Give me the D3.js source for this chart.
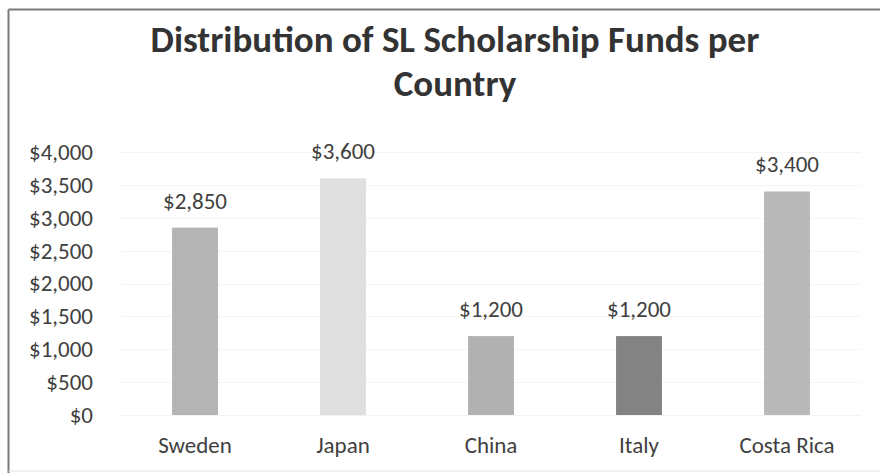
<!DOCTYPE html>
<html>
<head>
<meta charset="utf-8">
<script src="https://cdn.jsdelivr.net/npm/d3@7"></script>
<style>
  body { margin: 0; background: #fff; }
  text { font-family: Carlito, "Open Sans", sans-serif; fill: #404040; }
</style>
</head>
<body>
<script>
const countries = ["Sweden", "Japan", "China", "Italy", "Costa Rica"];
const funds = [2850, 3600, 1200, 1200, 3400];
const barColors = ["#b4b4b4", "#dfdfdf", "#b1b1b1", "#838383", "#b9b9b9"];
const yTicks = [0, 500, 1000, 1500, 2000, 2500, 3000, 3500, 4000];

const width = 880, height = 473;
const margin = {top: 152, right: 19, bottom: 58, left: 121};

const svg = d3.select("body").append("svg")
  .attr("width", width)
  .attr("height", height);

// frame (top and left edges show in the scan)
svg.append("line")
  .attr("x1", 8.5).attr("x2", width).attr("y1", 9.5).attr("y2", 9.5)
  .attr("stroke", "#7a7a7a").attr("stroke-width", 2);
svg.append("line")
  .attr("x1", 8.5).attr("x2", 8.5).attr("y1", 9.5).attr("y2", height)
  .attr("stroke", "#7a7a7a").attr("stroke-width", 2);
svg.append("line")
  .attr("x1", 8.5).attr("x2", width).attr("y1", 471).attr("y2", 471)
  .attr("stroke", "#e6e6e6").attr("stroke-width", 1);

const x = d3.scaleBand()
  .domain(countries)
  .range([margin.left, width - margin.right])
  .paddingInner(0.69)
  .paddingOuter(0.345);

const y = d3.scaleLinear()
  .domain([0, 4000])
  .range([height - margin.bottom, margin.top]);

// gridlines
svg.append("g")
  .selectAll("line")
  .data(yTicks)
  .enter().append("line")
  .attr("x1", margin.left)
  .attr("x2", width - margin.right)
  .attr("y1", d => Math.round(y(d)) + 0.5)
  .attr("y2", d => Math.round(y(d)) + 0.5)
  .attr("stroke", "#f4f4f4");

// y axis labels
const yAxis = d3.axisLeft(y)
  .tickValues(yTicks)
  .tickSize(0)
  .tickPadding(0)
  .tickFormat(d => "$" + d3.format(",")(d));

svg.append("g")
  .attr("transform", "translate(93,0)")
  .call(yAxis)
  .call(g => g.select(".domain").remove())
  .selectAll("text")
  .attr("font-size", 23)
  .attr("font-family", null)
  .attr("fill", "#404040");

// bars
svg.append("g")
  .selectAll("rect")
  .data(countries)
  .enter().append("rect")
  .attr("x", d => x(d))
  .attr("width", x.bandwidth())
  .attr("y", (d, i) => y(funds[i]))
  .attr("height", (d, i) => y(0) - y(funds[i]))
  .attr("fill", (d, i) => barColors[i]);

// value labels
svg.append("g")
  .selectAll("text")
  .data(countries)
  .enter().append("text")
  .attr("x", d => x(d) + x.bandwidth() / 2)
  .attr("y", (d, i) => y(funds[i]) - 19)
  .attr("text-anchor", "middle")
  .attr("font-size", 23)
  .text((d, i) => "$" + d3.format(",")(funds[i]));

// x axis labels
const xAxis = d3.axisBottom(x).tickSize(0).tickPadding(0);
svg.append("g")
  .attr("transform", "translate(0,437)")
  .call(xAxis)
  .call(g => g.select(".domain").remove())
  .selectAll("text")
  .attr("font-size", 23)
  .attr("font-family", null)
  .attr("fill", "#404040");

// title
const title = svg.append("text")
  .attr("text-anchor", "middle")
  .attr("font-size", 37)
  .attr("font-weight", "bold")
  .style("fill", "#333");
title.append("tspan").attr("x", 455).attr("y", 52).text("Distribution of SL Scholarship Funds per");
title.append("tspan").attr("x", 455).attr("y", 96).text("Country");
</script>
</body>
</html>
